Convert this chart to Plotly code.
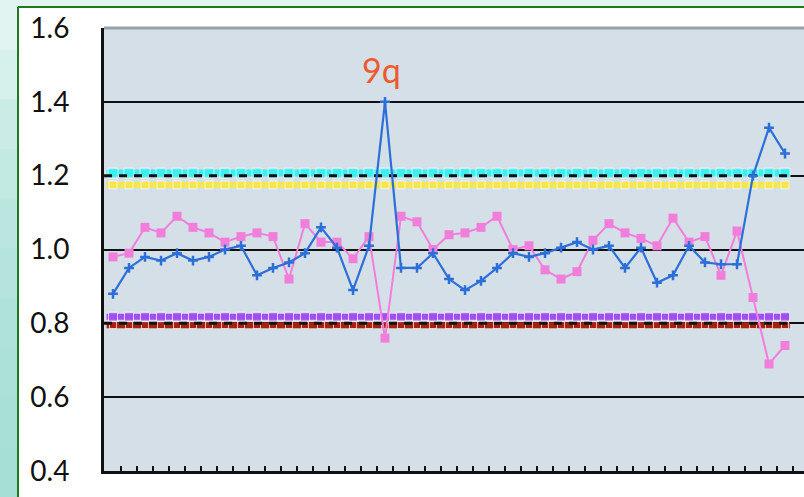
import plotly.graph_objects as go

# ---- data ----
blue = [0.88, 0.95, 0.98, 0.97, 0.99, 0.97, 0.98, 1.00, 1.01, 0.93, 0.95,
        0.965, 0.99, 1.06, 1.005, 0.89, 1.01, 1.40, 0.95, 0.95, 0.99, 0.92,
        0.89, 0.915, 0.95, 0.99, 0.98, 0.99, 1.005, 1.02, 1.00, 1.01, 0.95,
        1.005, 0.91, 0.93, 1.01, 0.965, 0.96, 0.96, 1.20, 1.33, 1.26]
pink = [0.98, 0.99, 1.06, 1.045, 1.09, 1.06, 1.045, 1.02, 1.035, 1.045, 1.035,
        0.92, 1.07, 1.02, 1.02, 0.975, 1.035, 0.76, 1.09, 1.075, 1.00, 1.04,
        1.045, 1.06, 1.09, 1.00, 1.01, 0.945, 0.92, 0.94, 1.025, 1.07, 1.045,
        1.03, 1.01, 1.085, 1.02, 1.035, 0.93, 1.05, 0.87, 0.69, 0.74]
cyan_level = 1.207
yellow_level = 1.175
upper_cut = 1.2
purple_level = 0.818
red_level = 0.795
lower_cut = 0.8
y_ticks = [0.4, 0.6, 0.8, 1.0, 1.2, 1.4, 1.6]
y_labels = ["0.4", "0.6", "0.8", "1.0", "1.2", "1.4", "1.6"]
peak_label = "9q"
peak_index = 17

n = len(blue)
idx = list(range(n))
x_ext = [-0.4] + idx + [42.3]

fig = go.Figure()

def level_line(v, color, width, msize, symbol="square"):
    fig.add_trace(go.Scatter(
        x=x_ext, y=[v] * len(x_ext), mode="lines+markers",
        line=dict(color=color, width=width),
        marker=dict(color=color, size=[0] + [msize] * n + [0], symbol=symbol),
        hoverinfo="skip", showlegend=False))

# cover the gridline where the dashed cut line sits
fig.add_trace(go.Scatter(x=[-0.56, 42.3], y=[upper_cut, upper_cut], mode="lines",
                         line=dict(color="#d5dfe7", width=3),
                         hoverinfo="skip", showlegend=False))

level_line(yellow_level, "#f3e64e", 6, 8)
level_line(cyan_level, "#3ceef0", 7, 10)
level_line(purple_level, "#a24ff2", 6, 9)
level_line(red_level, "#a8200e", 6, 7)

for v in (upper_cut, lower_cut):
    fig.add_trace(go.Scatter(x=[-0.56, 42.3], y=[v, v], mode="lines",
                             line=dict(color="#111111", width=3, dash="8px,7px"),
                             hoverinfo="skip", showlegend=False))

fig.add_trace(go.Scatter(
    x=idx, y=pink, mode="lines+markers",
    line=dict(color="#f27edb", width=2),
    marker=dict(color="#f27edb", size=9, symbol="square"),
    showlegend=False))
fig.add_trace(go.Scatter(
    x=idx, y=blue, mode="lines+markers",
    line=dict(color="#2c6fd8", width=2.2),
    marker=dict(color="#2c6fd8", size=7, symbol="cross-thin",
                line=dict(color="#2c6fd8", width=2.5)),
    showlegend=False))

fig.add_annotation(x=peak_index - 0.25, y=1.488, text=peak_label, showarrow=False,
                   font=dict(family="Lato, DejaVu Sans", size=34, color="#ec5a2e"))

# outer frame: teal strip on the left, light strip at top, green border
W, H = 804, 497
L, R, T, B = 104, 804, 28, 471
def px(xp):
    return (xp - L) / (R - L)
def py(yp):
    return (B - yp) / (B - T)

strip_colors = ["#e2f4f1", "#d6f0ec", "#cbece6", "#c2e9e2", "#bae6df",
                "#b4e4dc", "#afe2da", "#abe1d8", "#a8e0d7", "#a6dfd6"]
band = H / len(strip_colors)
for k, c in enumerate(strip_colors):
    fig.add_shape(type="rect", xref="paper", yref="paper",
                  x0=px(0), x1=px(17), y0=py(k * band), y1=py((k + 1) * band + 1),
                  line=dict(width=0), fillcolor=c, layer="below")
fig.add_shape(type="rect", xref="paper", yref="paper",
              x0=px(17), x1=px(804), y0=py(0), y1=py(7),
              line=dict(width=0), fillcolor="#e3f3f0", layer="below")
fig.add_shape(type="line", xref="paper", yref="paper",
              x0=px(18), x1=px(18), y0=py(7), y1=py(497),
              line=dict(color="#1f7a1f", width=2))
fig.add_shape(type="line", xref="paper", yref="paper",
              x0=px(18), x1=px(804), y0=py(7), y1=py(7),
              line=dict(color="#1f7a1f", width=2))
# grey top border of plot
fig.add_shape(type="line", xref="paper", yref="paper",
              x0=0, x1=1, y0=1, y1=1,
              line=dict(color="#9aa0a4", width=3))

fig.update_layout(
    width=W, height=H,
    margin=dict(l=L, r=W - R, t=T, b=H - B, pad=0),
    paper_bgcolor="white",
    plot_bgcolor="#d5dfe7",
    font=dict(family="Lato, DejaVu Sans", color="#111111"),
)
fig.update_xaxes(range=[-0.5625, 43.1875], showgrid=False, zeroline=False,
                 showline=True, linecolor="#111111", linewidth=3,
                 ticks="inside", tick0=0.5, dtick=1, ticklen=5, tickwidth=2,
                 tickcolor="#111111", showticklabels=False)
fig.update_yaxes(range=[0.4, 1.6], tickvals=y_ticks, ticktext=y_labels,
                 showgrid=True, gridcolor="#111111", gridwidth=2,
                 zeroline=False, showline=True, linecolor="#111111", linewidth=3,
                 ticks="", tickfont=dict(size=28, color="#111111"),
                 ticklabelstandoff=26)

fig.write_html("out.html", config={"displayModeBar": False},
               post_script="document.body.style.margin='0';document.body.style.overflow='hidden';")
